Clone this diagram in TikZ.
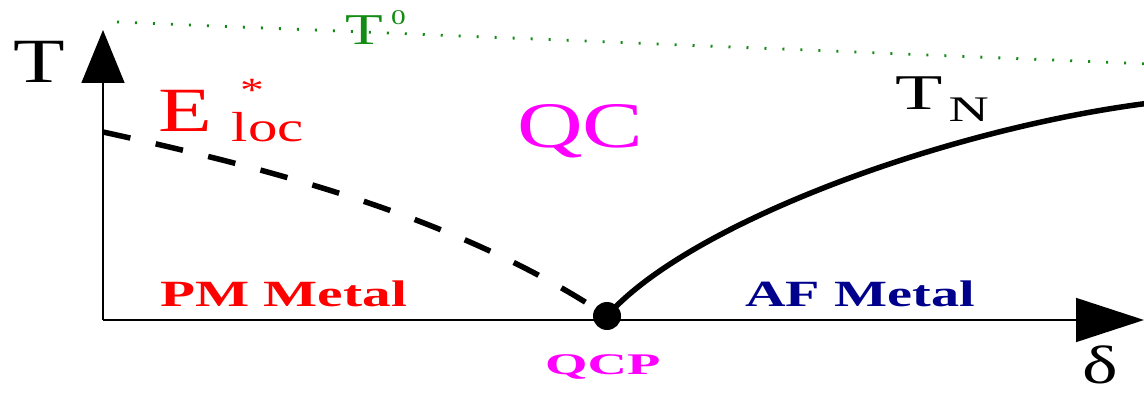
\documentclass[tikz,border=0pt]{standalone}
\usepackage{fontspec}
\setmainfont{Liberation Serif}
\usepackage{graphicx}
\usetikzlibrary{arrows.meta}

\definecolor{pmred}{RGB}{255,0,0}
\definecolor{qcmag}{RGB}{255,0,255}
\definecolor{afblue}{RGB}{0,0,140}
\definecolor{tgreen}{RGB}{20,140,20}

% stretched text: x-factor, size, text
\newcommand{\wtxt}[3]{\scalebox{#1}[1]{\fontsize{#2}{#2}\selectfont #3}}

\begin{document}
\begin{tikzpicture}[x=1pt, y=-1pt,
    axis/.style={line width=1.6pt},
    lbl/.style={inner sep=0pt, anchor=base west},
    phase/.style={line width=5.5pt},
    tzero/.style={tgreen, line width=2.8pt, dash pattern=on 2pt off 16pt}
  ]
  \useasboundingbox (0,0) rectangle (1144,395);
  \clip (0,0) rectangle (1144,395);

  \coordinate (origin) at (103,320);
  \coordinate (ytip)   at (103,30);
  \coordinate (xtip)   at (1144,320);
  \coordinate (estart) at (103,132);
  \coordinate (tnend)  at (1150,103);
  \coordinate (t0a)    at (117,22);
  \coordinate (t0b)    at (1150,64);

  \node[circle, fill, inner sep=0pt, minimum size=28pt] (qcp) at (607,316) {};

  % axes
  \draw[axis, -{Triangle[length=53pt, width=43pt]}] (origin) -- (ytip);
  \draw[axis, -{Triangle[length=68pt, width=44pt]}] (origin) -- (xtip);

  % crossover lines
  \draw[tzero] (t0a) -- (t0b);
  \draw[phase, dash pattern=on 28pt off 26pt]
    (estart) .. controls (300,175) and (470,225) .. (qcp.center);
  \draw[phase] (qcp.center) .. controls (690,222) and (950,128) .. (tnend);

  % labels
  \node[lbl] (Tlab) at (13,83) {\wtxt{1.34}{63}{T}};
  \node[lbl, text=tgreen] (Tzero) at (345,45)
    {\wtxt{1.4}{44}{T\hspace{6pt}\raisebox{20pt}{\fontsize{21}{21}\selectfont 0}}};
  \node[lbl, text=pmred] (Eloc) at (158,132)
    {\wtxt{1.4}{63}{E\hspace{14pt}\rlap{\hspace{6pt}\raisebox{30pt}{\fontsize{34}{34}\selectfont *}}\raisebox{-10pt}{\fontsize{42}{42}\selectfont loc}}};
  \node[lbl, text=qcmag] (QC) at (517,148) {\wtxt{1.4}{65}{QC}};
  \node[lbl] (TN) at (895,110)
    {\wtxt{1.55}{50}{T\hspace{4pt}\raisebox{-12pt}{\fontsize{36}{36}\selectfont N}}};
  \node[lbl, text=pmred] (PM) at (160,307) {\wtxt{1.55}{37}{\bfseries PM Metal}};
  \node[lbl, text=afblue] (AF) at (745,307) {\wtxt{1.52}{37}{\bfseries AF Metal}};
  \node[lbl, text=qcmag] (QCPlab) at (545,375) {\wtxt{1.82}{30}{\bfseries QCP}};
  \node[lbl] (delta) at (1082,384) {\wtxt{1.4}{54}{δ}};
\end{tikzpicture}
\end{document}
